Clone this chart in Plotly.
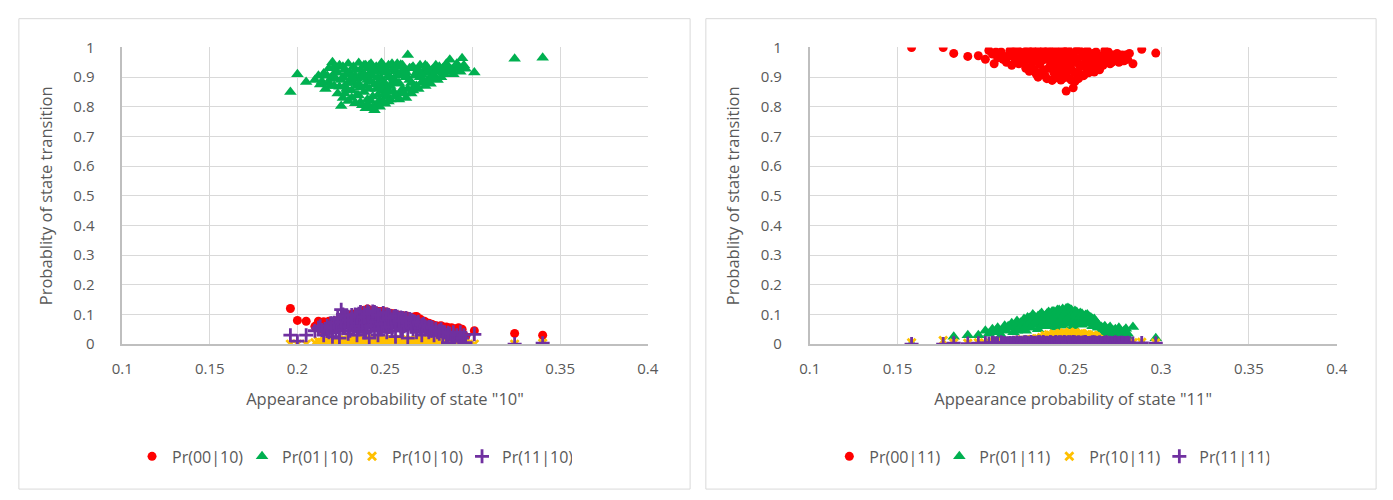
import plotly.graph_objects as go

# ---------------- data: state "10" ----------------
x10 = [0.196,0.200,0.205,0.210,0.212,0.213,0.215,0.216,0.218,0.219,
       0.220,0.221,0.222,0.223,0.224,0.225,0.226,0.226,0.227,0.228,
       0.228,0.229,0.230,0.231,0.232,0.232,0.233,0.234,0.234,0.235,
       0.236,0.236,0.237,0.238,0.238,0.239,0.240,0.240,0.241,0.241,
       0.242,0.242,0.243,0.243,0.244,0.244,0.245,0.245,0.246,0.246,
       0.247,0.247,0.248,0.248,0.249,0.249,0.250,0.250,0.251,0.251,
       0.252,0.252,0.253,0.253,0.254,0.255,0.255,0.256,0.257,0.257,
       0.258,0.259,0.259,0.260,0.261,0.261,0.262,0.263,0.264,0.265,
       0.266,0.267,0.268,0.269,0.270,0.271,0.272,0.273,0.274,0.275,
       0.276,0.277,0.278,0.279,0.280,0.281,0.282,0.283,0.284,0.285,
       0.286,0.287,0.288,0.289,0.290,0.291,0.292,0.293,0.294,0.295,
       0.296,0.301,0.324,0.340,
       0.222,0.224,0.226,0.227,0.229,0.230,0.231,0.233,0.233,0.235,
       0.235,0.237,0.237,0.239,0.239,0.240,0.241,0.242,0.243,0.244,
       0.245,0.246,0.247,0.248,0.249,0.250,0.251,0.252,0.253,0.254,
       0.255,0.256,0.257,0.258,0.259,0.260,0.261,0.262,0.263,0.264,
       0.265,0.266,0.267,0.268,0.270,0.272,0.274,0.276,0.218,0.220,
       0.214,0.217,0.219,0.221,0.223,0.225,0.227,0.229,0.231,0.234,
       0.236,0.238,0.240,0.243,0.246,0.249,0.252,0.256,0.258,0.262,
       0.265,0.269,0.271,0.273,0.275,0.277,0.279,0.281,0.283,0.286]
pr00_10 = [0.120,0.080,0.077,0.060,0.077,0.050,0.075,0.065,0.077,0.055,
           0.068,0.074,0.060,0.080,0.070,0.082,0.065,0.078,0.088,0.072,
           0.090,0.095,0.078,0.100,0.085,0.070,0.060,0.098,0.085,0.090,
           0.105,0.092,0.075,0.110,0.088,0.100,0.118,0.080,0.105,0.098,
           0.095,0.112,0.085,0.110,0.108,0.100,0.092,0.088,0.110,0.078,
           0.104,0.100,0.096,0.108,0.088,0.105,0.102,0.094,0.105,0.090,
           0.085,0.104,0.100,0.092,0.098,0.080,0.098,0.097,0.090,0.093,
           0.095,0.075,0.088,0.094,0.085,0.095,0.092,0.070,0.090,0.082,
           0.088,0.060,0.093,0.078,0.085,0.070,0.065,0.075,0.068,0.060,
           0.066,0.055,0.062,0.050,0.060,0.045,0.062,0.055,0.040,0.058,
           0.050,0.040,0.055,0.045,0.052,0.040,0.055,0.035,0.050,0.030,
           0.025,0.045,0.036,0.030,
           0.072,0.076,0.085,0.080,0.092,0.088,0.096,0.102,0.094,0.106,
           0.082,0.108,0.096,0.112,0.090,0.106,0.115,0.100,0.108,0.095,
           0.112,0.100,0.110,0.092,0.106,0.098,0.108,0.096,0.104,0.094,
           0.102,0.092,0.098,0.088,0.096,0.090,0.094,0.088,0.094,0.085,
           0.090,0.080,0.092,0.082,0.075,0.078,0.070,0.068,0.070,0.075,
           0.070,0.072,0.076,0.070,0.078,0.084,0.090,0.086,0.098,0.104,
           0.100,0.114,0.108,0.112,0.106,0.110,0.102,0.100,0.092,0.090,
           0.088,0.085,0.078,0.072,0.070,0.066,0.062,0.060,0.058,0.055]
pr01_10 = [0.850,0.910,0.884,0.890,0.905,0.875,0.912,0.860,0.930,0.895,
           0.950,0.870,0.918,0.845,0.940,0.803,0.900,0.830,0.925,0.860,
           0.910,0.945,0.885,0.830,0.935,0.880,0.905,0.870,0.895,0.948,
           0.815,0.925,0.915,0.850,0.940,0.795,0.890,0.930,0.860,0.912,
           0.945,0.820,0.905,0.835,0.788,0.875,0.935,0.805,0.840,0.920,
           0.800,0.930,0.895,0.948,0.855,0.880,0.915,0.810,0.870,0.835,
           0.940,0.905,0.825,0.900,0.945,0.850,0.895,0.920,0.835,0.945,
           0.880,0.942,0.850,0.860,0.910,0.925,0.830,0.975,0.890,0.845,
           0.935,0.870,0.915,0.860,0.940,0.880,0.920,0.870,0.935,0.895,
           0.878,0.925,0.905,0.940,0.890,0.918,0.900,0.930,0.910,0.945,
           0.920,0.959,0.925,0.910,0.935,0.945,0.930,0.918,0.964,0.940,
           0.928,0.916,0.962,0.965,
           0.895,0.868,0.935,0.845,0.880,0.915,0.855,0.925,0.812,0.878,
           0.838,0.898,0.805,0.940,0.870,0.825,0.940,0.885,0.798,0.920,
           0.860,0.900,0.822,0.865,0.938,0.845,0.925,0.818,0.870,0.880,
           0.930,0.840,0.905,0.825,0.915,0.940,0.845,0.900,0.860,0.930,
           0.880,0.855,0.905,0.870,0.900,0.890,0.885,0.915,0.880,0.905,
           0.885,0.905,0.870,0.935,0.915,0.890,0.870,0.820,0.900,0.840,
           0.865,0.910,0.808,0.925,0.880,0.815,0.855,0.878,0.935,0.915,
           0.930,0.925,0.910,0.940,0.925,0.900,0.920,0.935,0.915,0.935]
pr10_10 = [0.000,0.000,0.000,0.005,0.010,0.000,0.004,0.012,0.008,0.002,
           0.015,0.006,0.010,0.003,0.012,0.008,0.000,0.011,0.014,0.005,
           0.006,0.010,0.018,0.004,0.012,0.006,0.007,0.016,0.003,0.002,
           0.010,0.009,0.014,0.006,0.011,0.003,0.017,0.008,0.012,0.004,
           0.005,0.015,0.009,0.012,0.002,0.013,0.007,0.008,0.016,0.004,
           0.011,0.014,0.006,0.014,0.003,0.006,0.010,0.017,0.008,0.010,
           0.012,0.003,0.005,0.015,0.002,0.011,0.013,0.007,0.013,0.006,
           0.004,0.016,0.010,0.009,0.006,0.003,0.012,0.002,0.014,0.008,
           0.005,0.011,0.003,0.015,0.007,0.012,0.004,0.009,0.014,0.006,
           0.010,0.003,0.013,0.008,0.005,0.011,0.002,0.009,0.006,0.012,
           0.004,0.010,0.003,0.008,0.005,0.009,0.002,0.007,0.004,0.006,
           0.002,0.000,0.000,0.003,
           0.004,0.009,0.006,0.012,0.003,0.010,0.007,0.013,0.005,0.009,
           0.014,0.004,0.011,0.008,0.015,0.006,0.010,0.003,0.012,0.007,
           0.015,0.005,0.009,0.012,0.004,0.010,0.006,0.013,0.008,0.011,
           0.004,0.009,0.012,0.006,0.010,0.003,0.013,0.007,0.010,0.005,
           0.012,0.008,0.004,0.011,0.006,0.009,0.005,0.010,0.006,0.010,
           0.006,0.009,0.004,0.011,0.007,0.012,0.005,0.010,0.014,0.006,
           0.010,0.004,0.013,0.008,0.011,0.006,0.012,0.008,0.010,0.005,
           0.010,0.006,0.012,0.007,0.010,0.004,0.009,0.006,0.010,0.005]
pr11_10 = [0.030,0.010,0.030,0.045,0.055,0.060,0.030,0.050,0.040,0.070,
           0.025,0.060,0.045,0.080,0.020,0.116,0.055,0.100,0.070,0.090,
           0.085,0.035,0.065,0.085,0.050,0.075,0.100,0.030,0.098,0.075,
           0.095,0.062,0.060,0.040,0.105,0.080,0.055,0.110,0.020,0.095,
           0.090,0.070,0.100,0.080,0.045,0.108,0.065,0.102,0.085,0.030,
           0.100,0.058,0.075,0.050,0.095,0.072,0.060,0.088,0.040,0.095,
           0.098,0.065,0.070,0.085,0.055,0.092,0.078,0.025,0.080,0.088,
           0.065,0.090,0.060,0.045,0.078,0.082,0.085,0.020,0.070,0.082,
           0.050,0.075,0.040,0.068,0.060,0.030,0.062,0.050,0.055,0.040,
           0.058,0.045,0.030,0.052,0.040,0.035,0.050,0.025,0.040,0.030,
           0.005,0.035,0.020,0.040,0.015,0.030,0.010,0.040,0.020,0.030,
           0.005,0.033,0.000,0.003,
           0.062,0.048,0.080,0.058,0.092,0.045,0.070,0.088,0.060,0.102,
           0.050,0.085,0.072,0.098,0.040,0.088,0.106,0.060,0.092,0.075,
           0.104,0.050,0.090,0.068,0.100,0.080,0.100,0.058,0.095,0.045,
           0.090,0.070,0.092,0.085,0.050,0.088,0.060,0.080,0.072,0.085,
           0.060,0.078,0.065,0.072,0.055,0.068,0.050,0.045,0.055,0.038,
           0.048,0.062,0.055,0.072,0.088,0.075,0.095,0.080,0.098,0.090,
           0.108,0.092,0.100,0.110,0.098,0.105,0.088,0.095,0.078,0.088,
           0.070,0.075,0.065,0.060,0.058,0.055,0.048,0.045,0.042,0.038]

# ---------------- data: state "11" ----------------
x11 = [0.158,0.176,0.182,0.190,0.196,0.200,0.202,0.204,0.205,0.207,
       0.209,0.211,0.212,0.214,0.215,0.216,0.217,0.218,0.219,0.220,
       0.221,0.222,0.223,0.224,0.225,0.226,0.227,0.228,0.229,0.230,
       0.230,0.231,0.232,0.233,0.234,0.235,0.236,0.237,0.238,0.238,
       0.239,0.240,0.240,0.241,0.242,0.242,0.243,0.244,0.244,0.245,
       0.246,0.246,0.247,0.248,0.248,0.249,0.250,0.250,0.251,0.252,
       0.253,0.253,0.254,0.255,0.256,0.257,0.258,0.259,0.260,0.261,
       0.262,0.263,0.264,0.265,0.266,0.267,0.268,0.269,0.270,0.271,
       0.272,0.273,0.274,0.275,0.276,0.277,0.278,0.279,0.280,0.281,
       0.282,0.284,0.289,0.297,
       0.216,0.218,0.220,0.222,0.223,0.225,0.226,0.227,0.228,0.229,
       0.231,0.232,0.233,0.234,0.235,0.236,0.237,0.238,0.239,0.240,
       0.241,0.241,0.243,0.243,0.244,0.245,0.245,0.246,0.247,0.247,
       0.248,0.249,0.249,0.250,0.251,0.251,0.252,0.253,0.254,0.255,
       0.256,0.257,0.258,0.259,0.260,0.261,0.262,0.263,0.264,0.266,
       0.268,0.270,0.272,0.274,0.276,0.278,0.280,0.213,0.210,0.206]
pr00_11 = [1.000,1.000,0.980,0.970,0.972,0.960,0.990,0.978,0.945,0.965,
           0.985,0.970,0.950,0.990,0.940,0.975,0.960,0.995,0.945,0.985,
           0.955,0.970,0.930,0.995,0.920,0.980,0.950,0.965,0.910,0.990,
           0.900,0.945,0.975,0.925,0.960,0.895,0.995,0.940,0.889,0.975,
           0.915,0.955,0.990,0.900,0.935,0.970,0.890,0.950,0.995,0.910,
           0.853,0.965,0.925,0.985,0.895,0.945,0.864,0.975,0.915,0.955,
           0.895,0.995,0.935,0.970,0.905,0.950,0.990,0.915,0.960,0.930,
           0.917,0.985,0.945,0.925,0.970,0.940,0.990,0.950,0.965,0.945,
           0.975,0.955,0.960,0.980,0.950,0.960,0.975,0.955,0.970,0.960,
           0.980,0.945,0.994,0.981,
           0.985,0.955,0.965,0.945,0.985,0.960,0.935,0.990,0.925,0.970,
           0.915,0.955,0.990,0.905,0.970,0.930,0.985,0.950,0.895,0.925,
           0.975,0.945,0.965,0.920,0.895,0.985,0.940,0.905,0.960,0.995,
           0.935,0.890,0.975,0.920,0.965,0.885,0.990,0.945,0.910,0.985,
           0.940,0.975,0.925,0.965,0.935,0.980,0.955,0.930,0.975,0.950,
           0.960,0.985,0.950,0.975,0.965,0.955,0.975,0.970,0.960,0.985]
pr01_11 = [0.000,0.000,0.025,0.030,0.030,0.045,0.035,0.050,0.040,0.055,
           0.030,0.062,0.045,0.055,0.070,0.040,0.065,0.078,0.050,0.072,
           0.060,0.085,0.045,0.090,0.070,0.055,0.100,0.080,0.065,0.095,
           0.050,0.085,0.105,0.070,0.095,0.060,0.108,0.080,0.100,0.065,
           0.110,0.088,0.055,0.105,0.075,0.115,0.095,0.062,0.112,0.085,
           0.120,0.070,0.100,0.118,0.080,0.108,0.090,0.060,0.112,0.075,
           0.100,0.085,0.105,0.065,0.095,0.080,0.100,0.070,0.090,0.060,
           0.085,0.075,0.055,0.060,0.045,0.055,0.035,0.050,0.040,0.058,
           0.030,0.045,0.050,0.025,0.055,0.040,0.030,0.045,0.020,0.035,
           0.015,0.058,0.003,0.020,
           0.062,0.045,0.055,0.075,0.060,0.088,0.078,0.065,0.092,0.075,
           0.098,0.060,0.090,0.080,0.102,0.072,0.095,0.110,0.085,0.098,
           0.070,0.115,0.105,0.078,0.118,0.100,0.068,0.110,0.088,0.122,
           0.095,0.072,0.115,0.105,0.085,0.098,0.108,0.070,0.092,0.102,
           0.075,0.098,0.085,0.092,0.078,0.085,0.070,0.062,0.068,0.058,
           0.060,0.052,0.048,0.042,0.050,0.038,0.052,0.060,0.050,0.045]
pr10_11 = [0.005,0.012,0.004,0.003,0.005,0.002,0.006,0.003,0.008,0.004,
           0.002,0.007,0.004,0.009,0.003,0.006,0.010,0.004,0.012,0.007,
           0.015,0.005,0.010,0.008,0.013,0.004,0.016,0.006,0.011,0.018,
           0.003,0.009,0.014,0.020,0.006,0.025,0.012,0.030,0.008,0.022,
           0.015,0.032,0.010,0.026,0.018,0.034,0.012,0.028,0.020,0.035,
           0.014,0.030,0.024,0.038,0.016,0.032,0.026,0.036,0.020,0.033,
           0.028,0.012,0.035,0.022,0.030,0.016,0.032,0.026,0.020,0.030,
           0.012,0.025,0.008,0.015,0.006,0.010,0.004,0.008,0.003,0.007,
           0.005,0.009,0.004,0.006,0.003,0.008,0.005,0.002,0.006,0.004,
           0.003,0.005,0.006,0.004,
           0.008,0.006,0.010,0.004,0.012,0.008,0.015,0.006,0.012,0.018,
           0.010,0.022,0.008,0.028,0.015,0.032,0.010,0.026,0.034,0.018,
           0.030,0.012,0.036,0.022,0.032,0.026,0.038,0.020,0.034,0.028,
           0.040,0.024,0.036,0.030,0.038,0.018,0.030,0.034,0.022,0.036,
           0.026,0.032,0.020,0.030,0.024,0.014,0.028,0.010,0.018,0.008,
           0.012,0.006,0.004,0.008,0.005,0.003,0.006,0.005,0.006,0.004]
pr11_11 = [0.000,0.000,0.003,0.002,0.003,0.004,0.002,0.005,0.003,0.002,
           0.006,0.003,0.002,0.004,0.003,0.005,0.002,0.006,0.003,0.004,
           0.002,0.006,0.003,0.005,0.002,0.007,0.003,0.004,0.002,0.006,
           0.003,0.005,0.002,0.007,0.003,0.004,0.002,0.006,0.003,0.005,
           0.002,0.007,0.003,0.004,0.002,0.006,0.003,0.005,0.002,0.007,
           0.003,0.004,0.002,0.006,0.003,0.005,0.002,0.007,0.003,0.004,
           0.002,0.006,0.003,0.005,0.002,0.007,0.003,0.004,0.002,0.006,
           0.003,0.005,0.002,0.006,0.003,0.004,0.002,0.006,0.003,0.005,
           0.002,0.004,0.006,0.003,0.002,0.005,0.003,0.004,0.002,0.005,
           0.003,0.002,0.004,0.003,
           0.004,0.002,0.005,0.003,0.006,0.002,0.004,0.003,0.005,0.002,
           0.006,0.003,0.004,0.002,0.005,0.003,0.006,0.002,0.004,0.003,
           0.005,0.002,0.006,0.003,0.004,0.002,0.005,0.003,0.006,0.002,
           0.004,0.003,0.005,0.002,0.006,0.003,0.004,0.002,0.005,0.003,
           0.006,0.002,0.004,0.003,0.005,0.002,0.006,0.003,0.004,0.002,
           0.005,0.003,0.002,0.004,0.003,0.005,0.002,0.003,0.004,0.002]

x_ticks = [0.1, 0.15, 0.2, 0.25, 0.3, 0.35, 0.4]
x_tick_text = ["0.1", "0.15", "0.2", "0.25", "0.3", "0.35", "0.4"]
y_ticks = [0, 0.1, 0.2, 0.3, 0.4, 0.5, 0.6, 0.7, 0.8, 0.9, 1]
y_tick_text = ["0", "0.1", "0.2", "0.3", "0.4", "0.5", "0.6", "0.7", "0.8", "0.9", "1"]

# ---------------- styling ----------------
W, H = 1393, 500
FONT = "Open Sans"
TXT = "#595959"
GRID = "#d9d9d9"
AXIS = "#bfbfbf"

styles = [
    dict(color="#FF0000", symbol="circle", size=9),
    dict(color="#00B050", symbol="triangle-up", size=11),
    dict(color="#FFC000", symbol="x-thin", size=8),
    dict(color="#7030A0", symbol="cross-thin", size=10),
]


def marker(st):
    m = dict(color=st["color"], symbol=st["symbol"], size=st["size"])
    if st["symbol"].endswith("thin"):
        m["line"] = dict(color=st["color"], width=2.8)
    else:
        m["line"] = dict(width=0)
    return m


fig = go.Figure()

panels = [
    dict(x=x10, ys=[pr00_10, pr01_10, pr10_10, pr11_10], state="10",
         xa="x", ya="y", legend="legend"),
    dict(x=x11, ys=[pr00_11, pr01_11, pr10_11, pr11_11], state="11",
         xa="x2", ya="y2", legend="legend2"),
]
codes = ["00", "01", "10", "11"]

for p in panels:
    for code, ys, st in zip(codes, p["ys"], styles):
        fig.add_trace(go.Scatter(
            x=p["x"], y=ys, mode="markers",
            name=f"Pr({code}|{p['state']})",
            marker=marker(st),
            xaxis=p["xa"], yaxis=p["ya"], legend=p["legend"],
            hoverinfo="skip",
        ))

# plot-area pixel boxes (left, right, top, bottom)
areas = [(113, 647, 38, 347), (811.5, 1347, 38, 347)]
frames = [(8, 690, 8, 498), (706, 1387, 8, 498)]


def px_x(v):
    return v / W


def px_y(v):
    return 1 - v / H


axis_common = dict(
    showgrid=True, gridcolor=GRID, gridwidth=1,
    showline=True, linecolor=AXIS, linewidth=1.5,
    zeroline=False, ticks="", tickfont=dict(family=FONT, size=15, color=TXT),
    title_font=dict(family=FONT, size=16.5, color=TXT),
)

layout_axes = {}
for i, ((l, r, t, b), p) in enumerate(zip(areas, panels)):
    sfx = "" if i == 0 else str(i + 1)
    layout_axes["xaxis" + sfx] = dict(
        axis_common, domain=[px_x(l), px_x(r)], range=[0.1, 0.4],
        tickvals=x_ticks, ticktext=x_tick_text, ticklabelstandoff=10,
        anchor="y" + sfx,
        title=dict(text=f'Appearance probability of state "{p["state"]}"', standoff=17),
    )
    layout_axes["yaxis" + sfx] = dict(
        axis_common, domain=[px_y(b), px_y(t)], range=[0, 1],
        tickvals=y_ticks, ticktext=y_tick_text, ticklabelstandoff=23,
        anchor="x" + sfx,
        title=dict(text="Probablity of state transition", standoff=17),
    )

shapes = [
    dict(type="rect", xref="paper", yref="paper",
         x0=px_x(l), x1=px_x(r), y0=px_y(b), y1=px_y(t),
         line=dict(color=GRID, width=1), fillcolor="rgba(0,0,0,0)", layer="below")
    for (l, r, t, b) in frames
]

legend_common = dict(
    orientation="h", xanchor="center", yanchor="middle", y=px_y(464),
    font=dict(family=FONT, size=16, color=TXT), bgcolor="rgba(0,0,0,0)",
    itemwidth=30, entrywidth=65, traceorder="normal",
    itemclick=False, itemdoubleclick=False,
)

fig.update_layout(
    width=W, height=H,
    margin=dict(l=0, r=0, t=0, b=0),
    paper_bgcolor="white", plot_bgcolor="white",
    font=dict(family=FONT, color=TXT),
    shapes=shapes,
    legend=dict(legend_common, x=px_x(346.5)),
    legend2=dict(legend_common, x=px_x(1055)),
    showlegend=True,
    **layout_axes,
)

fig.write_html("out.html")
